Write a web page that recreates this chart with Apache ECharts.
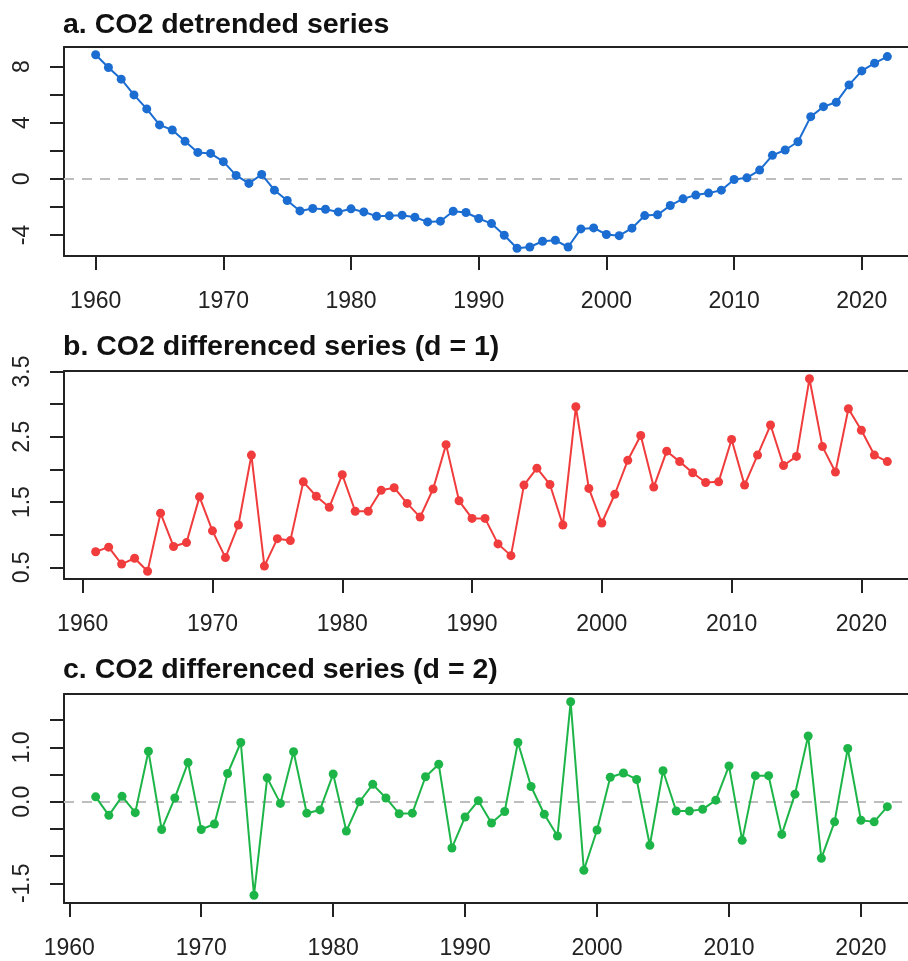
<!DOCTYPE html>
<html>
<head>
<meta charset="utf-8">
<script src="https://cdn.jsdelivr.net/npm/echarts@6/dist/echarts.min.js"></script>
<style>
html,body{margin:0;padding:0;background:#fff;}
#chart{width:908px;height:961px;}
</style>
</head>
<body>
<div id="chart"></div>
<script>
// ---- data ----
var yearsA = [1960,1961,1962,1963,1964,1965,1966,1967,1968,1969,1970,1971,1972,1973,1974,1975,1976,1977,1978,1979,1980,1981,1982,1983,1984,1985,1986,1987,1988,1989,1990,1991,1992,1993,1994,1995,1996,1997,1998,1999,2000,2001,2002,2003,2004,2005,2006,2007,2008,2009,2010,2011,2012,2013,2014,2015,2016,2017,2018,2019,2020,2021,2022];
var detrended = [8.84,7.93,7.10,5.98,4.98,3.84,3.48,2.67,1.88,1.81,
  1.22,0.24,-0.33,0.31,-0.81,-1.55,-2.29,-2.12,-2.17,-2.36,
  -2.14,-2.36,-2.67,-2.64,-2.59,-2.74,-3.07,-3.02,-2.31,-2.40,
  -2.83,-3.19,-4.02,-4.95,-4.86,-4.45,-4.38,-4.86,-3.57,-3.50,
  -3.97,-4.05,-3.52,-2.62,-2.57,-1.90,-1.43,-1.16,-1.02,-0.81,
  -0.05,0.07,0.62,1.67,2.05,2.64,4.43,5.14,5.45,6.69,
  7.69,8.24,8.71];

var yearsB = [1961,1962,1963,1964,1965,1966,1967,1968,1969,1970,1971,1972,1973,1974,1975,1976,1977,1978,1979,1980,1981,1982,1983,1984,1985,1986,1987,1988,1989,1990,1991,1992,1993,1994,1995,1996,1997,1998,1999,2000,2001,2002,2003,2004,2005,2006,2007,2008,2009,2010,2011,2012,2013,2014,2015,2016,2017,2018,2019,2020,2021,2022];
var diff1 = [0.74,0.81,0.55,0.64,0.44,1.33,0.82,0.88,1.58,
  1.06,0.65,1.15,2.22,0.52,0.94,0.91,1.81,1.59,1.42,
  1.92,1.36,1.36,1.68,1.72,1.48,1.27,1.70,2.38,1.52,
  1.25,1.25,0.86,0.68,1.76,2.02,1.77,1.15,2.96,1.71,
  1.18,1.62,2.14,2.52,1.73,2.28,2.12,1.95,1.80,1.81,
  2.46,1.76,2.22,2.68,2.06,2.20,3.39,2.35,1.96,2.93,
  2.60,2.22,2.12];

var yearsC = [1962,1963,1964,1965,1966,1967,1968,1969,1970,1971,1972,1973,1974,1975,1976,1977,1978,1979,1980,1981,1982,1983,1984,1985,1986,1987,1988,1989,1990,1991,1992,1993,1994,1995,1996,1997,1998,1999,2000,2001,2002,2003,2004,2005,2006,2007,2008,2009,2010,2011,2012,2013,2014,2015,2016,2017,2018,2019,2020,2021,2022];
var diff2 = [0.09,-0.25,0.10,-0.20,0.93,-0.51,0.07,0.72,
  -0.51,-0.41,0.52,1.09,-1.72,0.44,-0.03,0.92,-0.21,-0.15,
  0.51,-0.54,0.00,0.32,0.07,-0.22,-0.21,0.46,0.69,-0.85,
  -0.28,0.02,-0.39,-0.18,1.09,0.28,-0.23,-0.63,1.84,-1.26,
  -0.52,0.45,0.53,0.41,-0.80,0.57,-0.17,-0.17,-0.14,0.03,
  0.66,-0.71,0.48,0.48,-0.60,0.14,1.21,-1.04,-0.37,0.98,
  -0.34,-0.37,-0.09];

var xTicks = [1960,1970,1980,1990,2000,2010,2020];
var yTicksA = [-4,-2,0,2,4,6,8];
var yLabelsA = [-4,0,4,8];
var yTicksB = [0.5,1,1.5,2,2.5,3,3.5];
var yLabelsB = [0.5,1.5,2.5,3.5];
var yTicksC = [-1.5,-1,-0.5,0,0.5,1,1.5];
var yLabelsC = [-1.5,0,1];

var titles = ['a. CO2 detrended series','b. CO2 differenced series (d = 1)','c. CO2 differenced series (d = 2)'];
var colors = ['#1b6dd1','#f03c3c','#1db548'];

// ---- helpers ----
function rng(arr){
  var mn = Math.min.apply(null, arr), mx = Math.max.apply(null, arr);
  var p = 0.04 * (mx - mn);
  return [mn - p, mx + p];
}
function pairs(xs, ys){ return xs.map(function(x,i){ return [x, ys[i]]; }); }

var FONT = 'Liberation Sans, Arial, sans-serif';
var AX = '#222';
var grids = [
  {left:64, top:47, height:209},
  {left:64, top:371, height:208},
  {left:64, top:694, height:209}
];
var xsets = [yearsA, yearsB, yearsC];
var ysets = [detrended, diff1, diff2];
var ytick = [yTicksA, yTicksB, yTicksC];
var ylab = [yLabelsA, yLabelsB, yLabelsC];
var yfmt = [function(v){return String(v);}, function(v){return v.toFixed(1);}, function(v){return v.toFixed(1);}];
var titleTops = [11, 333, 656];

var xAxes = [];
[0,1,2].forEach(function(i){
  var r = rng(xsets[i]);
  xAxes.push({type:'value', gridIndex:i, position:'bottom', min:r[0], max:r[1],
    axisLine:{show:true, onZero:false, lineStyle:{color:AX, width:2}},
    splitLine:{show:false},
    axisTick:{show:true, length:14, lineStyle:{color:AX, width:2}, customValues:xTicks},
    axisLabel:{show:true, margin:34, fontFamily:FONT, fontSize:23, color:AX, customValues:xTicks,
      formatter:function(v){return String(v);}}
  });
});
[0,1,2].forEach(function(i){
  var r = rng(xsets[i]);
  xAxes.push({type:'value', gridIndex:i, position:'top', min:r[0], max:r[1],
    axisLine:{show:true, onZero:false, lineStyle:{color:AX, width:2}},
    splitLine:{show:false}, axisTick:{show:false}, axisLabel:{show:false}
  });
});

var option = {
  animation:false,
  backgroundColor:'#fff',
  title: titles.map(function(t,i){
    return {text:t, left:63, top:titleTops[i], padding:0,
      textStyle:{fontFamily:FONT, fontWeight:'bold', fontSize:28.5, color:'#111'}};
  }),
  grid: grids.map(function(g){
    return {left:g.left, top:g.top, right:-11, height:g.height, show:false,
      outerBoundsMode:'none', containLabel:false};
  }),
  xAxis: xAxes,
  yAxis: [0,1,2].map(function(i){
    var r = rng(ysets[i]);
    return {type:'value', gridIndex:i, min:r[0], max:r[1],
      axisLine:{show:true, onZero:false, lineStyle:{color:AX, width:2}},
      splitLine:{show:false},
      axisTick:{show:true, length:14, lineStyle:{color:AX, width:2}, customValues:ytick[i]},
      axisLabel:{show:true, rotate:90, margin:30, fontFamily:FONT, fontSize:23, color:AX,
        customValues:ylab[i], formatter:yfmt[i]}
    };
  }),
  series: [0,1,2].map(function(i){
    var s = {type:'line', xAxisIndex:i, yAxisIndex:i, data:pairs(xsets[i], ysets[i]),
      symbol:'circle', symbolSize:9, showSymbol:true,
      lineStyle:{color:colors[i], width:2},
      itemStyle:{color:colors[i]},
      z:3
    };
    if (i !== 1) {
      s.markLine = {silent:true, symbol:['none','none'], label:{show:false},
        lineStyle:{color:'#bdbdbd', type:[10,8], width:2},
        data:[{yAxis:0}], z:1, animation:false};
    }
    return s;
  })
};

var chart = echarts.init(document.getElementById('chart'), null, {renderer:'canvas'});
chart.setOption(option);
</script>
</body>
</html>
